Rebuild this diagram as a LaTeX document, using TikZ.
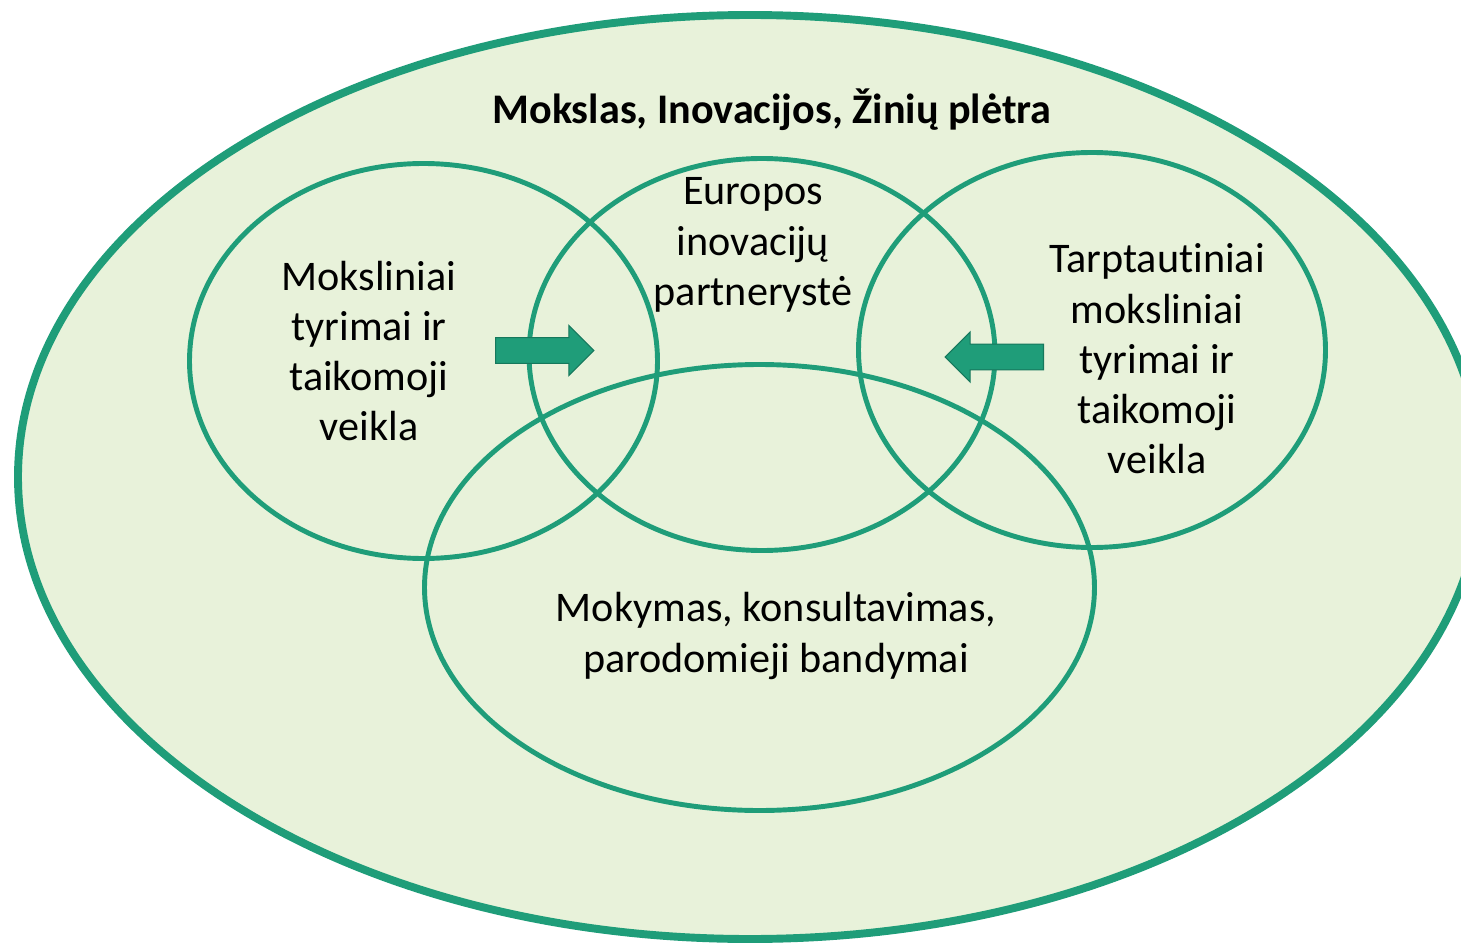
\documentclass[tikz,border=0pt]{standalone}
\usepackage{fontspec}
\setmainfont{Carlito}[Ligatures={NoCommon}]
\usetikzlibrary{shapes.arrows}

\definecolor{venngreen}{RGB}{31,157,121}
\definecolor{vennfill}{RGB}{232,242,218}
\definecolor{arrowedge}{RGB}{22,120,92}

\begin{document}
\begin{tikzpicture}[x=0.02cm, y=-0.02cm,
    ring/.style={draw=venngreen, line width=2.8pt},
    lbl/.style={align=center, font=\fontsize{24}{28.6}\selectfont, inner sep=0pt},
    blockarrow/.style={single arrow, fill=venngreen, draw=arrowedge, line width=0.6pt,
        minimum height=56pt, minimum width=28pt, single arrow head extend=7pt,
        inner xsep=0pt, inner ysep=7pt, anchor=tail}]
    \useasboundingbox (0,0) rectangle (1461,946);
    \clip (0,0) rectangle (1461,946);

    % outer field
    \filldraw[fill=vennfill, draw=venngreen, line width=4.5pt] (750,477) ellipse [x radius=732, y radius=462];

    \node[lbl, font=\fontsize{24}{28.6}\selectfont\bfseries] (title) at (772,110) {Mokslas, Inovacijos, Žinių plėtra};

    % four rings
    \draw[ring] (423.5,361) ellipse [x radius=234, y radius=197.5];
    \draw[ring] (762,354.5) ellipse [x radius=233, y radius=196];
    \draw[ring] (1092,350) ellipse [x radius=233.5, y radius=197.5];
    \draw[ring] (759.5,587.5) ellipse [x radius=335, y radius=223];

    \node[lbl] (research) at (369,351) {Moksliniai\\tyrimai ir\\taikomoji\\veikla};
    \node[lbl] (eip) at (753,245) {Europos\\inovacijų\\partnerystė};
    \node[lbl] (intl) at (1157,359) {Tarptautiniai\\moksliniai\\tyrimai ir\\taikomoji\\veikla};
    \node[lbl] (training) at (776,636) {Mokymas, konsultavimas,\\parodomieji bandymai};

    \node[blockarrow] (arrowin) at (495,350.5) {};
    \node[blockarrow, shape border rotate=180] (arrowback) at (1044,357) {};
\end{tikzpicture}
\end{document}
